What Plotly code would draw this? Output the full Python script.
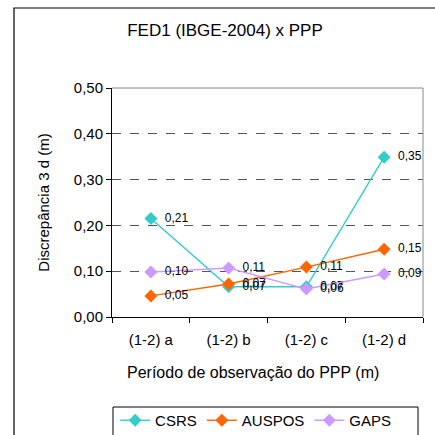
import plotly.graph_objects as go

# data
categories = ["(1-2) a", "(1-2) b", "(1-2) c", "(1-2) d"]
csrs = [0.215, 0.066, 0.066, 0.349]
auspos = [0.046, 0.072, 0.109, 0.148]
gaps = [0.098, 0.107, 0.061, 0.094]
y_ticks = [0.0, 0.1, 0.2, 0.3, 0.4, 0.5]

series = [
    ("CSRS", csrs, "#33CCCC"),
    ("AUSPOS", auspos, "#FF6600"),
    ("GAPS", gaps, "#CC99FF"),
]

FONT = "Liberation Sans, Arial, sans-serif"
PAD = "\u00a0\u00a0"  # gap between marker and its value label

fig = go.Figure()
for name, vals, col in series:
    fig.add_trace(go.Scatter(
        x=categories, y=vals, name=name,
        mode="lines+markers+text",
        line=dict(color=col, width=1.4),
        marker=dict(symbol="diamond", size=10, color=col),
        text=[PAD + f"{v:.2f}".replace(".", ",") for v in vals],
        textposition="middle right",
        textfont=dict(size=12, color="#000000", family=FONT),
        cliponaxis=False,
    ))

fig.update_layout(
    width=435, height=435,
    margin=dict(l=112, r=12, t=88, b=118, autoexpand=False),
    paper_bgcolor="white", plot_bgcolor="white",
    font=dict(family=FONT, color="#000000", size=15),
    separators=",.",
    title=dict(text="FED1 (IBGE-2004) x PPP", xref="container", x=225 / 435,
               xanchor="center", y=1 - 30 / 435, yanchor="middle", font=dict(size=17)),
    showlegend=True,
    legend=dict(orientation="h", x=0.01, xanchor="left",
                y=-(437 - 317) / 229, yanchor="bottom",
                borderwidth=0, bgcolor="rgba(0,0,0,0)", font=dict(size=15),
                tracegroupgap=0),
)

fig.update_xaxes(
    type="category", range=[-0.5, 3.5], automargin=False,
    showline=True, linecolor="#000000", linewidth=1,
    ticks="outside", tickson="boundaries", ticklen=5, tickcolor="#000000",
    showgrid=False, tickfont=dict(size=15), ticklabelstandoff=9,
)
fig.update_yaxes(
    range=[0, 0.5], tickvals=y_ticks, tickformat=".2f", automargin=False,
    showline=True, linecolor="#000000", linewidth=1,
    ticks="outside", ticklen=5, tickcolor="#000000",
    showgrid=True, gridcolor="#555555", griddash="dash", gridwidth=1,
    zeroline=False, tickfont=dict(size=15),
    title=dict(text="Discrepância 3 d (m)", font=dict(size=15), standoff=20),
)

# x axis title, centred under the chart frame rather than the plot area
fig.add_annotation(text="Período de observação do PPP (m)", showarrow=False,
                   xref="paper", yref="paper", x=(253 - 112) / 311, y=-(372 - 317) / 229,
                   xanchor="center", yanchor="middle", font=dict(size=16))

# gray top/right border of the plot area
fig.add_shape(type="line", xref="paper", yref="paper", x0=0, x1=1, y0=1, y1=1,
              line=dict(color="#888888", width=1))
fig.add_shape(type="line", xref="paper", yref="paper", x0=1, x1=1, y0=0, y1=1,
              line=dict(color="#888888", width=1))
# outer chart frame (cut off at right and bottom)
fig.add_shape(type="rect", xref="paper", yref="paper",
              x0=(14 - 112) / 311, x1=1.2, y0=-1.0, y1=1 + (88 - 8) / 229,
              line=dict(color="#000000", width=1.2), layer="below")
# legend frame (cut off at the bottom)
fig.add_shape(type="rect", xref="paper", yref="paper",
              x0=(113 - 112) / 311, x1=(418 - 112) / 311,
              y0=-(445 - 317) / 229, y1=-(407 - 317) / 229,
              line=dict(color="#000000", width=1), layer="below")

fig.write_html("out.html", config={"displayModeBar": False},
               post_script="document.body.style.margin='0';")
